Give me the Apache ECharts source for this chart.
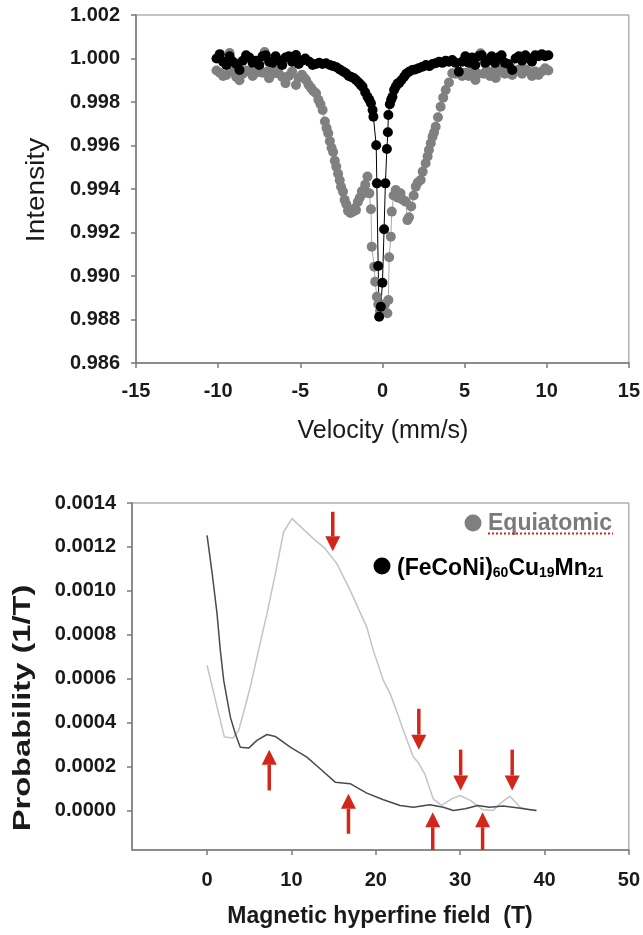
<!DOCTYPE html>
<html>
<head>
<meta charset="utf-8">
<script src="https://cdn.jsdelivr.net/npm/echarts@6/dist/echarts.min.js"></script>
<style>
  html, body { margin: 0; padding: 0; background: #fff; }
  #chart { width: 643px; height: 935px; }
</style>
</head>
<body>
<div id="chart"></div>
<script>
// top: Mossbauer spectra, velocity (mm/s) vs intensity
var grayVel = [-10.1, -9.9, -9.7, -9.5, -9.3, -9.1, -8.9, -8.7, -8.5, -8.3, -8.1, -7.9, -7.7, -7.5, -7.3, -7.17, -7.0, -6.9, -6.7, -6.5, -6.3, -6.1, -5.9, -5.7, -5.5, -5.26, -5.1, -4.9, -4.75, -4.65, -4.5, -4.35, -4.2, -4.04, -3.9, -3.77, -3.64, -3.5, -3.4, -3.3, -3.2, -3.1, -3.0, -2.9, -2.81, -2.7, -2.6, -2.52, -2.4, -2.3, -2.2, -2.1, -1.95, -1.8, -1.7, -1.61, -1.5, -1.38, -1.25, -1.17, -1.05, -0.91, -0.8, -0.7, -0.65, -0.5, -0.44, -0.34, -0.25, -0.15, -0.05, 0.05, 0.15, 0.3, 0.36, 0.41, 0.51, 0.57, 0.68, 0.81, 0.95, 1.1, 1.25, 1.42, 1.52, 1.62, 1.75, 1.9, 2.03, 2.15, 2.33, 2.45, 2.63, 2.75, 2.83, 2.94, 3.05, 3.14, 3.24, 3.38, 3.54, 3.7, 3.85, 4.05, 4.25, 4.45, 4.65, 4.85, 5.05, 5.25, 5.45, 5.66, 5.8, 5.97, 6.15, 6.35, 6.55, 6.75, 6.9, 7.08, 7.25, 7.45, 7.65, 7.9, 8.1, 8.3, 8.5, 8.7, 8.9, 9.1, 9.3, 9.5, 9.7, 9.9, 10.1];
var grayInt = [0.99945, 0.99935, 0.9992, 0.99924, 1.00025, 0.9994, 0.99915, 0.999, 0.9993, 0.99945, 0.9994, 0.9992, 0.99935, 0.9995, 0.99935, 1.0003, 0.9994, 0.99909, 0.9993, 0.99945, 0.9993, 0.99915, 0.99886, 0.9992, 0.9994, 0.99878, 0.9991, 0.99925, 0.9991, 0.99901, 0.9988, 0.99865, 0.9985, 0.9984, 0.9981, 0.9979, 0.99763, 0.9971, 0.9968, 0.99656, 0.9962, 0.9959, 0.9957, 0.9953, 0.99503, 0.9947, 0.9944, 0.9941, 0.99388, 0.9935, 0.9933, 0.993, 0.9929, 0.99295, 0.9931, 0.99303, 0.9934, 0.9936, 0.9939, 0.9938, 0.9942, 0.99457, 0.9938, 0.99307, 0.99135, 0.99043, 0.98974, 0.98905, 0.9887, 0.9884, 0.9886, 0.9885, 0.9887, 0.98829, 0.9889, 0.99086, 0.99181, 0.99296, 0.9937, 0.99395, 0.9936, 0.9938, 0.9935, 0.99342, 0.99257, 0.9927, 0.9932, 0.9937, 0.99411, 0.9943, 0.99441, 0.9948, 0.99518, 0.9955, 0.99579, 0.9961, 0.9964, 0.9966, 0.99686, 0.9973, 0.99778, 0.9982, 0.99855, 0.9989, 0.99932, 0.9993, 0.9994, 0.9992, 0.99935, 0.9992, 0.9994, 0.99901, 0.9993, 1.00024, 0.9993, 0.99945, 0.9992, 0.9994, 0.9991, 0.99939, 0.9995, 0.9993, 0.99945, 0.99924, 0.9994, 0.9995, 0.9993, 0.9995, 0.9994, 0.9992, 0.9994, 0.99924, 0.9994, 0.99955, 0.99945];

var blackVel = [-10.1, -9.9, -9.7, -9.5, -9.3, -9.1, -8.9, -8.7, -8.5, -8.3, -8.1, -7.9, -7.7, -7.5, -7.3, -7.1, -6.9, -6.7, -6.5, -6.3, -6.1, -5.9, -5.7, -5.5, -5.26, -5.1, -4.9, -4.7, -4.45, -4.25, -4.05, -3.85, -3.65, -3.43, -3.2, -3.0, -2.8, -2.6, -2.4, -2.22, -2.05, -1.9, -1.75, -1.61, -1.45, -1.33, -1.21, -1.05, -0.91, -0.8, -0.7, -0.6, -0.55, -0.38, -0.34, -0.26, -0.2, -0.1, 0.0, 0.1, 0.18, 0.27, 0.33, 0.36, 0.45, 0.53, 0.61, 0.71, 0.81, 0.92, 1.01, 1.15, 1.32, 1.45, 1.62, 1.82, 2.0, 2.2, 2.43, 2.65, 2.85, 3.05, 3.24, 3.45, 3.65, 3.85, 4.05, 4.25, 4.45, 4.65, 4.85, 5.05, 5.25, 5.45, 5.65, 5.85, 6.05, 6.25, 6.45, 6.65, 6.85, 7.05, 7.25, 7.45, 7.65, 7.9, 8.1, 8.3, 8.5, 8.7, 8.9, 9.1, 9.3, 9.5, 9.7, 9.9, 10.1];
var blackInt = [1.0, 1.0002, 0.99985, 0.9997, 1.0001, 0.99985, 0.99975, 0.99947, 0.9999, 1.00015, 1.00005, 0.9998, 0.9999, 0.9997, 1.0001, 1.00015, 0.99985, 0.9998, 1.0001, 0.9999, 0.9997, 1.00005, 1.0001, 0.99985, 1.00016, 0.99975, 0.9999, 1.0, 0.99985, 0.9997, 0.99975, 0.9998, 0.99975, 0.99978, 0.9997, 0.99965, 0.9996, 0.9995, 0.9994, 0.99932, 0.9992, 0.99915, 0.9991, 0.99901, 0.9989, 0.9988, 0.9987, 0.99845, 0.99824, 0.9981, 0.99794, 0.99763, 0.99732, 0.99601, 0.99426, 0.99046, 0.98813, 0.98859, 0.98969, 0.99215, 0.99426, 0.99584, 0.99661, 0.9974, 0.9979, 0.9981, 0.99824, 0.99855, 0.9987, 0.99885, 0.99886, 0.999, 0.99916, 0.9993, 0.99939, 0.99947, 0.9995, 0.99955, 0.99962, 0.9997, 0.99965, 0.99975, 0.99978, 0.99985, 0.9998, 0.9999, 0.99985, 0.99993, 0.9998, 0.99939, 0.99985, 1.0001, 0.9998, 1.00005, 0.9997, 1.0001, 1.00015, 0.9998, 0.9999, 1.0001, 0.9998, 1.00005, 1.00015, 0.9998, 0.99975, 0.99947, 1.0, 1.0001, 0.9999, 1.00015, 1.0, 0.99985, 1.00015, 1.0001, 1.0002, 1.0001, 1.00015];

// bottom: hyperfine field distributions
var equiField = [0, 2.05, 3.07, 3.74, 4.5, 5.12, 6.1, 7.1, 8.1, 9.07, 10.06, 12.6, 14.0, 15.38, 16.96, 18.93, 19.7, 20.9, 21.7, 22.5, 23.27, 24.45, 25.0, 25.8, 26.8, 27.8, 29.0, 29.98, 31.2, 32.7, 33.9, 34.7, 35.9, 37.1, 38.06, 39.0];
var equiProb = [0.00066, 0.000334, 0.00033, 0.000364, 0.00047, 0.000562, 0.00073, 0.000896, 0.00108, 0.001268, 0.001329, 0.001238, 0.001192, 0.001124, 0.001002, 0.000835, 0.000729, 0.000592, 0.000532, 0.00045, 0.000364, 0.000243, 0.00022, 0.000167, 0.000053, 0.000023, 0.000053, 0.000068, 0.000046, 0.000003, 0, 0.00003, 0.000065, 0.000015, 0.000003, 0];

var alloyField = [0, 0.6, 1.18, 1.57, 1.97, 2.76, 3.35, 3.94, 4.93, 5.91, 7.1, 8.08, 9.86, 11.83, 13.4, 15.18, 16.96, 18.93, 20.9, 22.88, 24.45, 26.4, 28.0, 29.2, 30.6, 32.1, 33.5, 35.1, 36.7, 39.05];
var alloyProb = [0.001253, 0.00108, 0.000896, 0.000729, 0.000592, 0.000425, 0.000349, 0.000288, 0.000284, 0.000319, 0.000346, 0.000337, 0.000288, 0.000243, 0.00019, 0.000129, 0.000122, 0.000079, 0.000049, 0.000023, 0.000015, 0.000026, 0.000015, 0, 0.000008, 0.000023, 0.000015, 0.00002, 0.000012, 0];

// red arrows: field, tail, tip
var arrowField = [14.9, 25.1, 30.06, 36.17, 7.37, 16.76, 26.75, 32.66];
var arrowTail = [0.00136, 0.000463, 0.000277, 0.000277, 0.000091, -0.000106, -0.00018, -0.00018];
var arrowTip = [0.00118, 0.000277, 0.000091, 0.000091, 0.000277, 0.000076, -0.000008, -0.000008];

var yBotTicks = [0, 0.0002, 0.0004, 0.0006, 0.0008, 0.001, 0.0012, 0.0014];
var xBotTicks = [0, 10, 20, 30, 40, 50];

function zip(a, b) {
  return a.map(function (v, i) { return [v, b[i]]; });
}

var FONT = 'Liberation Sans, Arial, sans-serif';
var axisCol = '#7a7a7a';
var labelStyle = { color: '#1a1a1a', fontSize: 20, fontWeight: 'bold', fontFamily: FONT };

var chart = echarts.init(document.getElementById('chart'));

function arrowItem(params, api) {
  var s = api.coord([api.value(0), api.value(1)]);
  var e = api.coord([api.value(0), api.value(2)]);
  var dir = e[1] > s[1] ? 1 : -1;
  var headL = 15, headW = 7.5;
  var baseY = e[1] - dir * headL;
  return {
    type: 'group',
    children: [
      { type: 'line', shape: { x1: s[0], y1: s[1], x2: s[0], y2: baseY },
        style: { stroke: '#d2261a', lineWidth: 3.5 } },
      { type: 'polygon', shape: { points: [[e[0] - headW, baseY], [e[0] + headW, baseY], [e[0], e[1]]] },
        style: { fill: '#d2261a' } }
    ]
  };
}

chart.setOption({
  animation: false,
  textStyle: { fontFamily: FONT },
  grid: [
    { left: 136, top: 15, width: 494, height: 348, show: true, borderColor: '#8a8a8a', borderWidth: 1 },
    { left: 132, top: 503, width: 497, height: 347, show: true, borderColor: '#8a8a8a', borderWidth: 1 }
  ],
  xAxis: [
    { gridIndex: 0, type: 'value', min: -15, max: 15, interval: 5,
      axisLine: { onZero: false, lineStyle: { color: axisCol, width: 1.5 } },
      axisTick: { inside: false, length: 5, lineStyle: { color: axisCol, width: 1.5 } },
      axisLabel: Object.assign({ margin: 18 }, labelStyle),
      splitLine: { show: false } },
    { gridIndex: 1, type: 'value', min: -8.9, max: 50,
      axisLine: { onZero: false, lineStyle: { color: axisCol, width: 1.5 } },
      axisTick: { length: 5, customValues: xBotTicks, lineStyle: { color: axisCol, width: 1.5 } },
      axisLabel: Object.assign({ margin: 20, customValues: xBotTicks }, labelStyle),
      splitLine: { show: false } }
  ],
  yAxis: [
    { gridIndex: 0, type: 'value', min: 0.986, max: 1.002, interval: 0.002,
      axisLine: { show: true, onZero: false, lineStyle: { color: axisCol, width: 1.5 } },
      axisTick: { show: true, length: 5, lineStyle: { color: axisCol, width: 1.5 } },
      axisLabel: Object.assign({ margin: 16, formatter: function (v) { return v.toFixed(3); } }, labelStyle),
      splitLine: { show: false } },
    { gridIndex: 1, type: 'value', min: -0.00018, max: 0.0014,
      axisLine: { show: true, onZero: false, lineStyle: { color: axisCol, width: 1.5 } },
      axisTick: { show: true, length: 5, customValues: yBotTicks, lineStyle: { color: axisCol, width: 1.5 } },
      axisLabel: Object.assign({ margin: 16, customValues: yBotTicks,
        formatter: function (v) { return v.toFixed(4); } }, labelStyle),
      splitLine: { show: false } }
  ],
  series: [
    { name: 'Equiatomic', type: 'line', xAxisIndex: 0, yAxisIndex: 0, data: zip(grayVel, grayInt),
      symbol: 'circle', symbolSize: 10, showAllSymbol: true,
      itemStyle: { color: '#808080' }, lineStyle: { color: '#a8a8a8', width: 1 } },
    { name: 'FeCoNiCuMn', type: 'line', xAxisIndex: 0, yAxisIndex: 0, data: zip(blackVel, blackInt),
      symbol: 'circle', symbolSize: 10, showAllSymbol: true,
      itemStyle: { color: '#000' }, lineStyle: { color: '#000', width: 1 } },
    { type: 'line', xAxisIndex: 1, yAxisIndex: 1, data: zip(equiField, equiProb),
      symbol: 'none', lineStyle: { color: '#c4c4c4', width: 1.5 } },
    { type: 'line', xAxisIndex: 1, yAxisIndex: 1, data: zip(alloyField, alloyProb),
      symbol: 'none', lineStyle: { color: '#4a4a4a', width: 1.5 } },
    { type: 'custom', xAxisIndex: 1, yAxisIndex: 1, renderItem: arrowItem, clip: false,
      data: arrowField.map(function (f, i) { return [f, arrowTail[i], arrowTip[i]]; }) }
  ],
  graphic: [
    { type: 'text', x: 37, y: 190, rotation: Math.PI / 2, scaleX: 1.12,
      style: { text: 'Intensity', fontSize: 25, fontFamily: FONT, fill: '#1a1a1a', align: 'center', verticalAlign: 'middle' } },
    { type: 'text', x: 383, y: 431,
      style: { text: 'Velocity (mm/s)', fontSize: 25, fontFamily: FONT, fill: '#1a1a1a', align: 'center', verticalAlign: 'middle' } },
    { type: 'text', x: 23, y: 708, rotation: Math.PI / 2, scaleX: 1.36,
      style: { text: 'Probability (1/T)', fontSize: 24, fontWeight: 'bold', fontFamily: FONT, fill: '#1a1a1a', align: 'center', verticalAlign: 'middle' } },
    { type: 'text', x: 380, y: 917,
      style: { text: 'Magnetic hyperfine field  (T)', fontSize: 23, fontWeight: 'bold', fontFamily: FONT, fill: '#1a1a1a', align: 'center', verticalAlign: 'middle' } },
    // legend
    { type: 'circle', shape: { cx: 473, cy: 523, r: 8.5 }, style: { fill: '#7f7f7f' } },
    { type: 'text', x: 488, y: 524,
      style: { text: 'Equiatomic', fontSize: 23, fontWeight: 'bold', fontFamily: FONT, fill: '#7a7a7a', align: 'left', verticalAlign: 'middle' } },
    { type: 'line', shape: { x1: 488, y1: 533.5, x2: 613, y2: 533.5 },
      style: { stroke: '#e0201c', lineWidth: 2, lineDash: [2, 2] } },
    { type: 'circle', shape: { cx: 382, cy: 566, r: 8.5 }, style: { fill: '#000' } },
    { type: 'text', x: 397, y: 566,
      style: { text: '{m|(FeCoNi)}{s|60}{m|Cu}{s|19}{m|Mn}{s|21}', fontFamily: FONT, fill: '#000',
        align: 'left', verticalAlign: 'middle',
        rich: {
          m: { fontSize: 23, fontWeight: 'bold', fontFamily: FONT, lineHeight: 28, verticalAlign: 'bottom' },
          s: { fontSize: 14, fontWeight: 'bold', fontFamily: FONT, lineHeight: 28, verticalAlign: 'bottom' }
        } } }
  ]
});
</script>
</body>
</html>
